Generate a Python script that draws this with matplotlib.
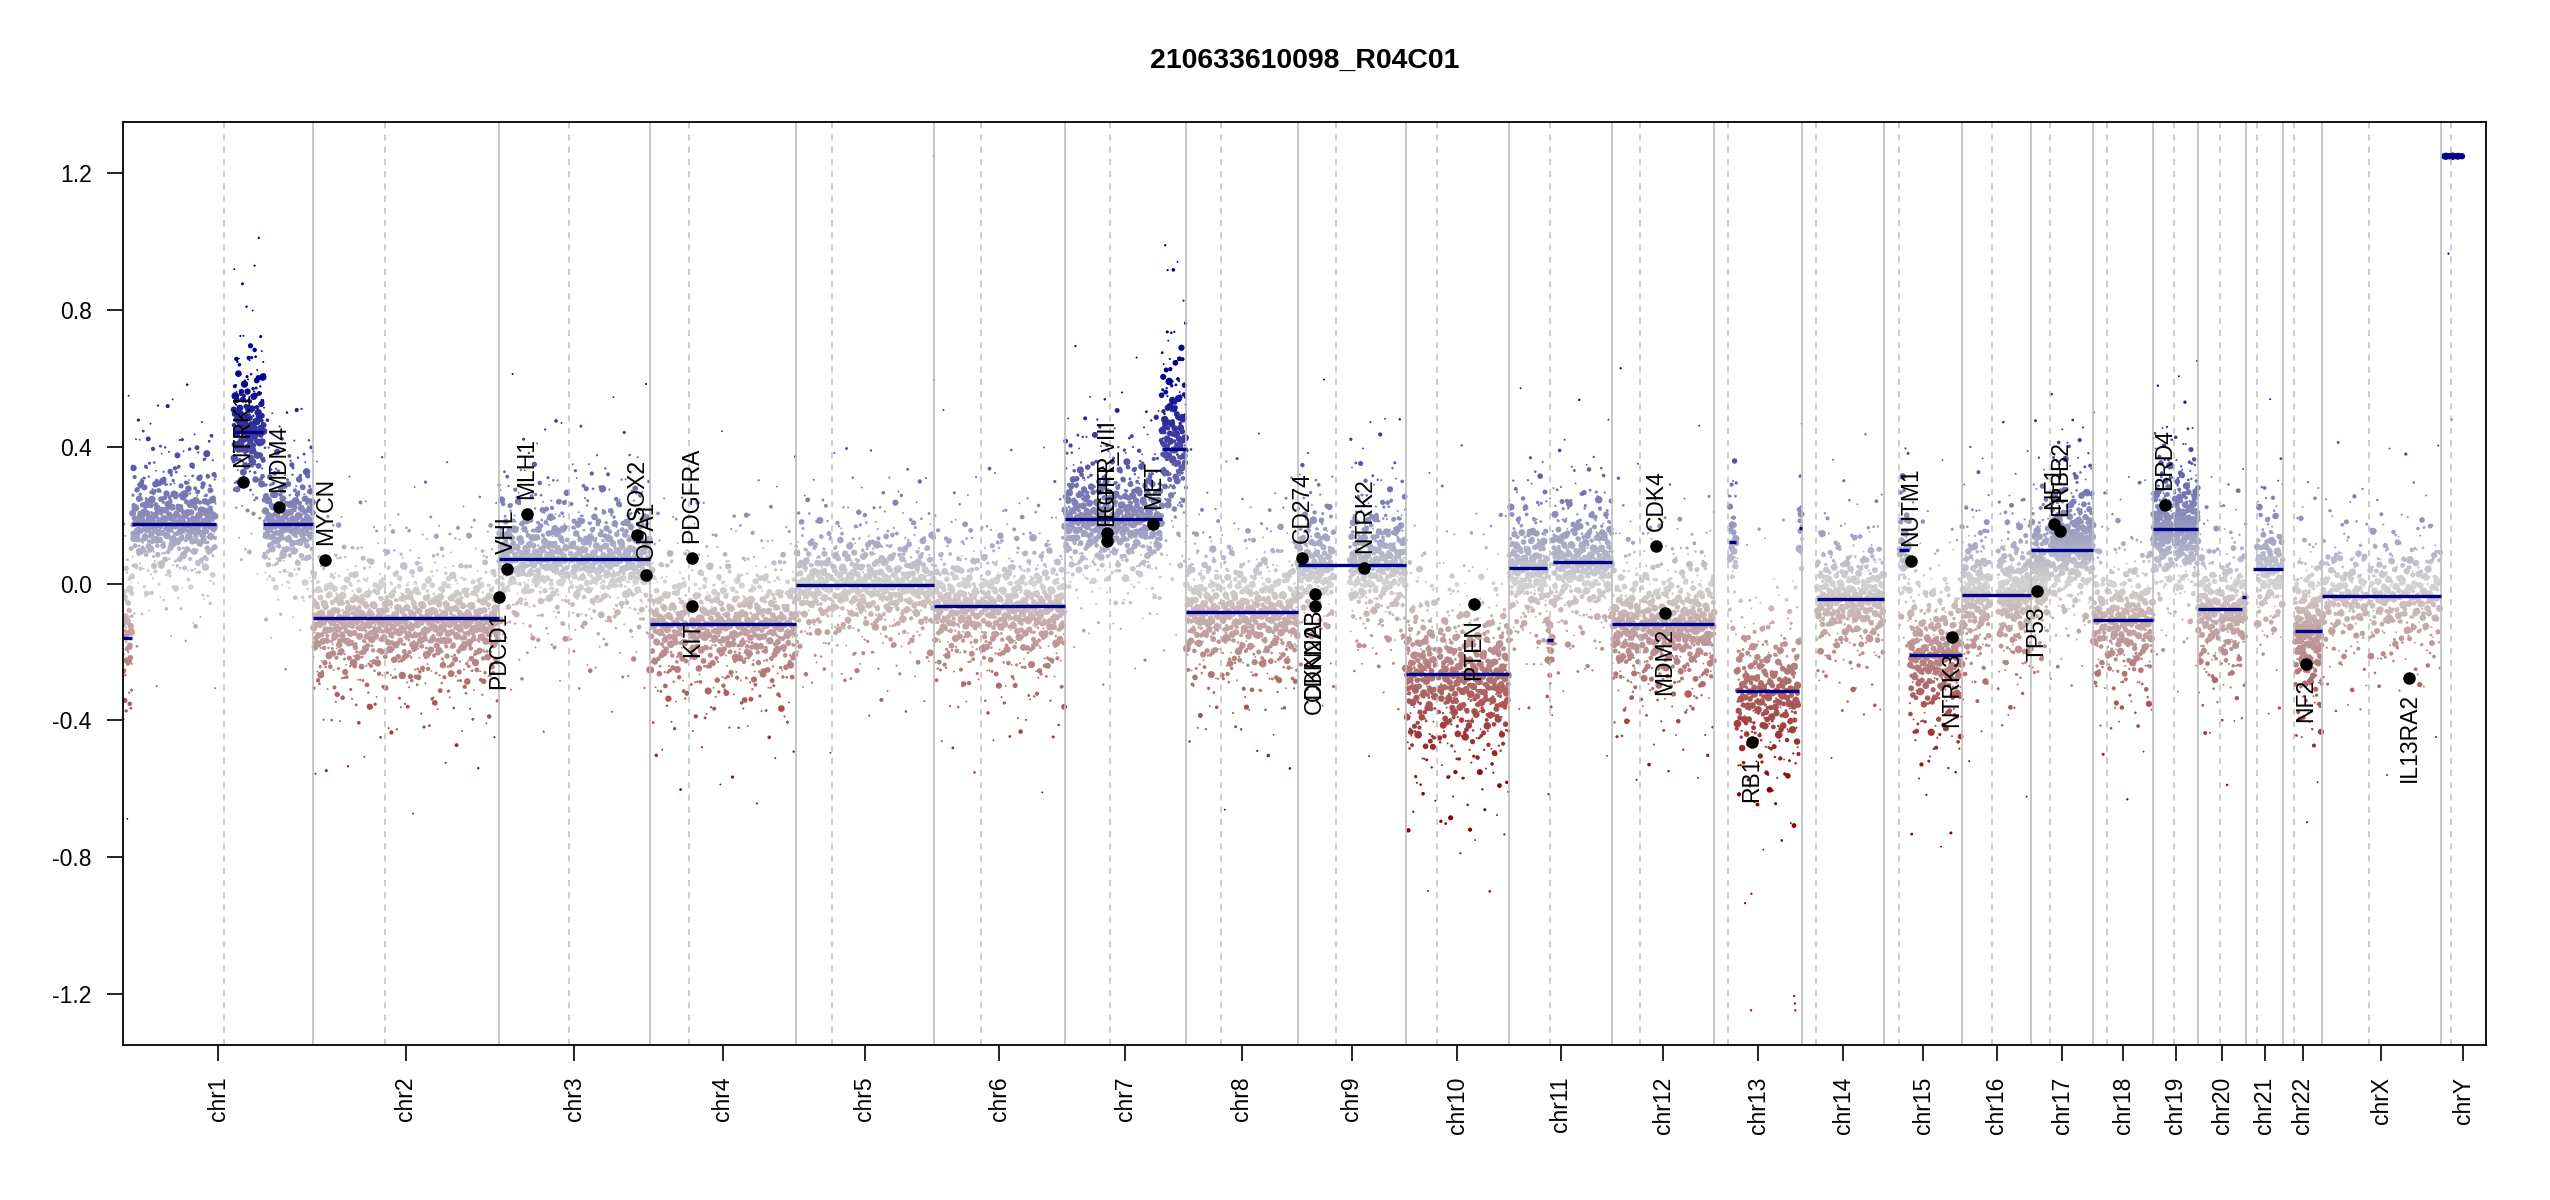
import numpy as np
import matplotlib
matplotlib.use("Agg")
import matplotlib.pyplot as plt
from matplotlib.transforms import ScaledTranslation

plt.rcParams["font.family"] = ["Liberation Sans", "DejaVu Sans"]
plt.rcParams["axes.unicode_minus"] = False

title = "210633610098_R04C01"

# hg19 chromosome sizes and p/q split, in Mb
chrom_names = ["chr1", "chr2", "chr3", "chr4", "chr5", "chr6", "chr7", "chr8",
               "chr9", "chr10", "chr11", "chr12", "chr13", "chr14", "chr15",
               "chr16", "chr17", "chr18", "chr19", "chr20", "chr21", "chr22",
               "chrX", "chrY"]
chrom_len = [249.25, 243.20, 198.02, 191.15, 180.92, 171.12, 159.14, 146.36,
             141.21, 135.53, 135.01, 133.85, 115.17, 107.35, 102.53, 90.35,
             81.20, 78.08, 59.13, 63.03, 48.13, 51.30, 155.27, 59.37]
chrom_pq = [133.0, 94.0, 92.0, 51.0, 47.5, 61.0, 59.5, 45.5, 50.0, 41.5, 53.5,
            36.5, 18.0, 18.5, 19.5, 38.5, 24.3, 17.8, 27.3, 28.5, 14.0, 15.0,
            61.2, 13.5]

# segments (dark blue lines)
seg_chrom = ["chr1", "chr1", "chr1", "chr1", "chr2", "chr3", "chr4", "chr5",
             "chr6", "chr7", "chr7", "chr8", "chr9", "chr10", "chr11", "chr11",
             "chr11", "chr12", "chr13", "chr13", "chr13", "chr14", "chr15",
             "chr15", "chr16", "chr17", "chr18", "chr19", "chr20", "chr20",
             "chr21", "chr22", "chrX", "chrY"]
seg_start = [0, 11.5, 145.5, 184, 0, 0, 0, 0, 0, 0, 127, 0, 0, 0, 0, 50, 57,
             0, 19, 29, 111, 19, 20, 33, 0, 0, 0, 0, 0, 57, 9, 16, 0, 2]
seg_end = [11.5, 121.5, 184, 249.25, 243.2, 198.02, 191.15, 180.92, 171.12,
           127, 159.14, 146.36, 141.21, 135.53, 50, 57, 135.01, 133.85, 29,
           111, 115.17, 107.35, 33, 102.53, 90.35, 81.2, 78.08, 59.13, 57,
           63.03, 48.13, 51.3, 155.27, 28]
seg_mean = [-0.16, 0.175, 0.442, 0.175, -0.10, 0.071, -0.118, -0.004, -0.065,
            0.188, 0.395, -0.083, 0.055, -0.264, 0.045, -0.164, 0.063, -0.118,
            0.121, -0.315, 0.163, -0.046, 0.099, -0.209, -0.032, 0.099,
            -0.105, 0.16, -0.074, -0.038, 0.043, -0.139, -0.035, 1.25]

# bin clouds: region, level, spread, bins per Mb
cloud_chrom = ["chr1", "chr1", "chr1", "chr1", "chr2", "chr3", "chr3", "chr4",
               "chr4", "chr5", "chr5", "chr6", "chr6", "chr7", "chr7", "chr7",
               "chr8", "chr8", "chr9", "chr9", "chr10", "chr10", "chr11",
               "chr11", "chr11", "chr12", "chr12", "chr13", "chr13", "chr13",
               "chr14", "chr15", "chr15", "chr16", "chr16", "chr17", "chr17",
               "chr18", "chr18", "chr19", "chr19", "chr20", "chr20", "chr20",
               "chr21", "chr22", "chrX", "chrX", "chrY"]
cloud_start = [0.5, 12, 145, 185, 0.2, 0.2, 94, 0.1, 53, 0.1, 49, 0.2, 62,
               0.1, 61.5, 127, 0.2, 47, 0.2, 68, 0.1, 43, 0.2, 50, 57, 0.1,
               38, 19.2, 29, 111, 19.3, 20.2, 33, 0.1, 46.5, 0.1, 25.3, 0.1,
               18.5, 0.2, 28, 0.1, 29.5, 57, 14.3, 16, 0.2, 61.7, 2.6]
cloud_end = [12, 121.5, 185, 249, 243, 90, 197.8, 49, 191, 46, 180.7, 58.5,
             171, 58, 127, 159, 43.5, 146.3, 47, 141, 39, 135.4, 50, 57, 134.9,
             34.5, 133.8, 29, 111, 115, 107.2, 33, 102.4, 35.3, 90.2, 22.2,
             81.1, 15.4, 78, 24.6, 59, 26.3, 57, 62.9, 48, 51.2, 58.5, 155,
             28]
cloud_level = [-0.13, 0.18, 0.45, 0.18, -0.11, 0.08, 0.07, -0.12, -0.12, 0.0,
               0.0, -0.06, -0.07, 0.19, 0.19, 0.42, -0.08, -0.085, 0.05, 0.06,
               -0.26, -0.27, 0.05, -0.16, 0.065, -0.12, -0.12, 0.12, -0.32,
               0.16, -0.045, 0.1, -0.21, -0.03, -0.03, 0.04, 0.12, -0.1,
               -0.105, 0.16, 0.16, -0.075, -0.075, -0.04, 0.043, -0.14, -0.035,
               -0.035, 1.4]
cloud_spread = [0.09, 0.065, 0.08, 0.065, 0.07, 0.07, 0.07, 0.075, 0.075,
                0.065, 0.065, 0.07, 0.075, 0.07, 0.07, 0.1, 0.075, 0.075,
                0.07, 0.075, 0.095, 0.095, 0.07, 0.07, 0.07, 0.075, 0.075,
                0.07, 0.085, 0.07, 0.065, 0.07, 0.085, 0.075, 0.075, 0.07,
                0.07, 0.075, 0.075, 0.07, 0.07, 0.075, 0.075, 0.075, 0.07,
                0.08, 0.07, 0.07, 0.01]
cloud_density = [5, 5, 6, 5, 4.5, 4.5, 4.5, 4, 4, 4, 4, 4.5, 4.5, 5, 5, 6, 4.5,
                 4.5, 4.5, 5, 5, 5, 5, 5, 5, 5, 5, 4, 4, 4, 4.5, 4.5, 5, 6, 6,
                 7, 7, 4.5, 4.5, 8, 8, 5, 5, 5, 4.5, 7, 3, 3, 1.2]

# single bins far from their cloud
outlier_chrom = ["chr1", "chr5", "chr5", "chr7", "chr12", "chr13", "chr13",
                 "chr13", "chr13", "chr13", "chrY", "chrY"]
outlier_pos = [172.5, 180.8, 180.9, 134.9, 11.2, 48.2, 48.6, 104.5, 105.6,
               106.0, 10.2, 14.1]
outlier_value = [0.93, 1.25, 0.596, 0.917, 0.63, -1.248, -0.907, -1.206,
                 -1.228, -1.248, 0.965, 0.48]

# detail genes
gene_names = ["NTRK1", "MDM4", "MYCN", "PDCD1", "VHL", "MLH1", "SOX2", "OPA1",
              "PDGFRA", "KIT", "EGFR", "EGFR_vIII", "MET", "CD274", "CDKN2A",
              "CDKN2B", "NTRK2", "PTEN", "CDK4", "MDM2", "RB1", "NUTM1",
              "NTRK3", "TP53", "NF1", "ERBB2", "BRD4", "NF2", "IL13RA2"]
gene_chrom = ["chr1", "chr1", "chr2", "chr2", "chr3", "chr3", "chr3", "chr3",
              "chr4", "chr4", "chr7", "chr7", "chr7", "chr9", "chr9", "chr9",
              "chr9", "chr10", "chr12", "chr12", "chr13", "chr15", "chr15",
              "chr17", "chr17", "chr17", "chr19", "chr22", "chrX"]
gene_pos = [156.8, 204.5, 16.1, 242.8, 10.2, 37.0, 181.4, 193.3, 55.1, 55.5,
            55.1, 55.2, 116.3, 5.45, 21.97, 22.0, 87.3, 89.6, 58.1, 69.2, 48.9,
            34.6, 88.5, 7.5, 29.5, 37.8, 15.4, 30.0, 114.3]
gene_value = [0.298, 0.225, 0.068, -0.039, 0.044, 0.204, 0.141, 0.026, 0.076,
              -0.066, 0.148, 0.125, 0.173, 0.076, -0.066, -0.029, 0.047,
              -0.059, 0.110, -0.086, -0.464, 0.065, -0.156, -0.022, 0.175,
              0.155, 0.23, -0.234, -0.275]

YLIM = 1.25

offset = dict(zip(chrom_names, np.concatenate([[0], np.cumsum(chrom_len)[:-1]])))
genome_len = sum(chrom_len)


def vdc(n, base):
    # van der Corput sequence, used to spread bins over the read-off band
    n = np.asarray(n, dtype=np.int64).copy()
    out = np.zeros(len(n))
    f = 1.0 / base
    while np.any(n > 0):
        out += f * (n % base)
        n //= base
        f /= base
    return out


def bin_colors(v):
    t = np.clip(v / 0.6, -1, 1)[:, None]
    grey = np.array([0.827, 0.827, 0.827])
    blue = np.array([0.0, 0.0, 0.545])
    red = np.array([0.545, 0.0, 0.0])
    return np.where(t >= 0, grey + t * (blue - grey), grey - t * (red - grey))


# expand the clouds into bins
xs, ys, sz = [], [], []
idx = 1
for c, s, e, lev, sp, dens in zip(cloud_chrom, cloud_start, cloud_end,
                                  cloud_level, cloud_spread, cloud_density):
    n = max(int(round((e - s) * dens)), 3)
    k = np.arange(idx, idx + n)
    idx += n
    u_size = vdc(k, 3)
    q = np.clip(vdc(k * 7 + 3, 2), 0.003, 0.997)
    z = np.log(q / (1 - q)) * 0.6
    jit = vdc(k, 5) - 0.5
    pos = s + (np.arange(n) + 0.5 + 0.8 * jit) / n * (e - s)
    val = lev + z * sp * (2.35 - 1.6 * u_size)
    xs.append(offset[c] + pos)
    ys.append(val)
    sz.append(1.8 + 6.0 * u_size ** 1.6)

xs.append(np.array([offset[c] + p for c, p in zip(outlier_chrom, outlier_pos)]))
ys.append(np.array(outlier_value))
sz.append(np.full(len(outlier_value), 2.2))

bx = np.concatenate(xs)
by = np.clip(np.concatenate(ys), -YLIM, YLIM)
bs = np.concatenate(sz)

fig = plt.figure(figsize=(25.5, 12), dpi=100)
ax = fig.add_axes([0.0482, 0.129, 0.9267, 0.7693])

ax.scatter(bx, by, s=(bs * 0.72) ** 2, c=bin_colors(by), marker="o",
           linewidths=0, zorder=1)

ends = np.cumsum(chrom_len)
for b in ends[:-1]:
    ax.axvline(b, color="#BEBEBE", lw=1.2, zorder=2)
for c, pq in zip(chrom_names, chrom_pq):
    ax.axvline(offset[c] + pq, color="#BEBEBE", lw=1.1, ls=(0, (4, 4)), zorder=2)

for c, s, e, m in zip(seg_chrom, seg_start, seg_end, seg_mean):
    ax.plot([offset[c] + s, offset[c] + e], [min(m, YLIM)] * 2,
            color="#00008B", lw=2.4, solid_capstyle="butt", zorder=3)

gx = [offset[c] + p for c, p in zip(gene_chrom, gene_pos)]
ax.plot(gx, gene_value, "o", color="black", ms=8, zorder=4)

# labels sit a fixed gap above (gain) or below (loss) their dot
gap = 15 / 100
for x, v, name in zip(gx, gene_value, gene_names):
    up = v > 0
    tr = ax.transData + ScaledTranslation(0, gap if up else -gap,
                                          fig.dpi_scale_trans)
    ax.text(x, v, name, rotation=90, rotation_mode="anchor",
            ha="left" if up else "right", va="center", fontsize=16.5,
            transform=tr, zorder=5)

ax.set_xlim(0, genome_len)
ax.set_ylim(-YLIM * 1.08, YLIM * 1.08)

mids = [offset[c] + l / 2 for c, l in zip(chrom_names, chrom_len)]
ax.set_xticks(mids)
ax.set_xticklabels(chrom_names, rotation=90)
yt = [-1.2, -0.8, -0.4, 0.0, 0.4, 0.8, 1.2]
ax.set_yticks(yt)
ax.set_yticklabels([f"{v:.1f}" for v in yt])
ax.tick_params(axis="both", length=11.5, width=1.2, labelsize=16.5, pad=11,
               color="black")
for sp in ax.spines.values():
    sp.set_linewidth(1.3)

fig.text(0.5116, 0.949, title, ha="center", va="center", fontsize=20.5,
         fontweight="bold")

fig.savefig("out.png", dpi=100)
